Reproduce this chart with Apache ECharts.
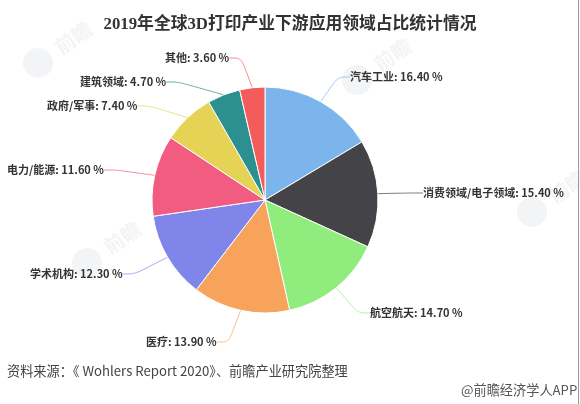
<!DOCTYPE html>
<html>
<head>
    <meta charset="utf-8">
    <script src="https://cdn.jsdelivr.net/npm/echarts@6/dist/echarts.min.js"></script>
    <style>
        html, body { margin: 0; padding: 0; background: #fff; }
    </style>
</head>
<body>
<div id="main" style="width: 580px;height:404px;"></div>
<script type="text/javascript">
    var categories = ['汽车工业', '消费领域/电子领域', '航空航天', '医疗', '学术机构', '电力/能源', '政府/军事', '建筑领域', '其他'];
    var shares = [16.4, 15.4, 14.7, 13.9, 12.3, 11.6, 7.4, 4.7, 3.6];
    var colors = ['#7cb5ec', '#434348', '#90ed7d', '#f7a35c', '#8085e9', '#f15c80', '#e4d354', '#2b908f', '#f45b5b'];
    // label anchor (left edge, middle) for each slice, padding is taken off below
    var labelX = [350, 423, 370, 146, 30, 7, 47, 80, 165];
    var labelY = [77, 193, 313, 342, 274, 170, 106, 82, 58];
    var labelGap = 9;

    var myChart = echarts.init(document.getElementById('main'));
    var font = '"Noto Sans CJK SC", "Liberation Sans", sans-serif';

    function watermark(x, y) {
        return [{
            type: 'circle',
            shape: { cx: x, cy: y, r: 15 },
            style: { fill: '#f3f4f6' },
            silent: true,
            z: -1
        }, {
            type: 'text',
            x: x + 19,
            y: y - 14,
            rotation: 0.6,
            style: { text: '前瞻', fill: '#f3f4f6', font: 'bold 20px ' + font, align: 'left', verticalAlign: 'middle' },
            silent: true,
            z: -1
        }];
    }

    myChart.setOption({
        animation: false,
        backgroundColor: '#fff',
        title: {
            text: '2019年全球3D打印产业下游应用领域占比统计情况',
            left: 285,
            top: 11,
            textAlign: 'center',
            textStyle: { color: '#333', fontSize: 16.8, fontWeight: 'bold', fontFamily: '"Liberation Serif", "Noto Sans CJK SC", serif' }
        },
        graphic: [].concat(
            watermark(38, 63), watermark(357, 80), watermark(87, 263), watermark(532, 212),
            [{
                type: 'text',
                x: 7,
                y: 371,
                style: { text: '资料来源：《 Wohlers Report 2020》、前瞻产业研究院整理', fill: '#444', font: '13.2px ' + font, verticalAlign: 'middle' }
            }, {
                type: 'text',
                x: 461,
                y: 390,
                style: { text: '@前瞻经济学人APP', fill: '#555', font: '13.2px ' + font, verticalAlign: 'middle' }
            }, {
                type: 'rect',
                shape: { x: 578, y: 0, width: 1, height: 404 },
                style: { fill: '#999' }
            }]
        ),
        series: [{
            type: 'pie',
            center: [265, 200],
            radius: [0, 113],
            startAngle: 90,
            clockwise: true,
            color: colors,
            itemStyle: { borderColor: '#fff', borderWidth: 1 },
            data: categories.map(function (name, i) {
                return { name: name, value: shares[i] };
            }),
            label: {
                formatter: function (p) {
                    return p.name + ': ' + p.value.toFixed(2) + ' %';
                },
                color: '#333',
                fontSize: 11,
                fontWeight: 'bold',
                fontFamily: font,
                padding: [0, labelGap],
                overflow: 'none'
            },
            labelLine: {
                show: true,
                smooth: 0.3,
                length: 18,
                length2: 12,
                lineStyle: { width: 1, opacity: 0.7 }
            },
            labelLayout: function (p) {
                return { x: labelX[p.dataIndex] - labelGap, y: labelY[p.dataIndex], align: 'left', verticalAlign: 'middle', hideOverlap: false };
            }
        }]
    });
</script>
</body>
</html>
